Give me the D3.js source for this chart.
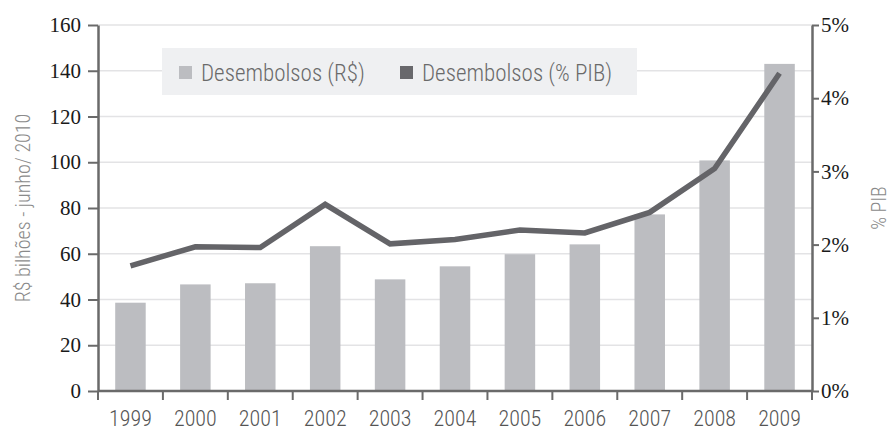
<!DOCTYPE html>
<html>
<head>
<meta charset="utf-8">
<script src="https://cdn.jsdelivr.net/npm/d3@7"></script>
<style>
  body { margin: 0; background: #fff; }
</style>
</head>
<body>
<svg width="890" height="430"></svg>
<script>
// data
const years = ["1999", "2000", "2001", "2002", "2003", "2004", "2005", "2006", "2007", "2008", "2009"];
const desembolsosRS = [38.6, 46.6, 47.1, 63.3, 48.8, 54.5, 59.8, 64.1, 77.2, 100.8, 143.0];
const desembolsosPIB = [1.71, 1.97, 1.96, 2.55, 2.01, 2.07, 2.20, 2.16, 2.44, 3.04, 4.34];
const leftTicks = [0, 20, 40, 60, 80, 100, 120, 140, 160];
const rightTicks = [0, 1, 2, 3, 4, 5];

const condFont = "'Roboto Condensed', 'Liberation Sans Narrow', 'DejaVu Sans Condensed', sans-serif";
const serifFont = "'Liberation Serif', 'DejaVu Serif', serif";

const svg = d3.select("svg");

var margin = { top: 25, right: 78, bottom: 39, left: 98 },
    width = 890 - margin.left - margin.right,
    height = 430 - margin.top - margin.bottom;

const g = svg.append("g")
    .attr("transform", "translate(" + margin.left + "," + margin.top + ")");

const x = d3.scaleBand()
    .domain(years)
    .range([0, width])
    .paddingInner(0.53)
    .paddingOuter(0.265);

const xOuter = d3.scaleBand().domain(years).range([0, width]);

const y = d3.scaleLinear().domain([0, 160]).range([height, 0]);
const y2 = d3.scaleLinear().domain([0, 5]).range([height, 0]);

// gridlines
g.selectAll(".grid")
    .data(leftTicks.slice(1))
    .enter()
    .append("line")
    .attr("x1", 0)
    .attr("x2", width)
    .attr("y1", d => y(d))
    .attr("y2", d => y(d))
    .attr("stroke", "#e3e3e5")
    .attr("stroke-width", 1.5);

// bars
g.selectAll(".bar")
    .data(desembolsosRS)
    .enter()
    .append("rect")
    .attr("x", (d, i) => x(years[i]))
    .attr("y", d => y(d))
    .attr("width", x.bandwidth())
    .attr("height", d => height - y(d))
    .attr("fill", "#bcbdc1");

// line
const line = d3.line()
    .x((d, i) => xOuter(years[i]) + xOuter.bandwidth() / 2)
    .y(d => y2(d));

g.append("path")
    .datum(desembolsosPIB)
    .attr("d", line)
    .attr("fill", "none")
    .attr("stroke", "#646468")
    .attr("stroke-width", 5.5)
    .attr("stroke-linejoin", "miter");

// left axis
const axisColor = "#6a6a6a";
const leftAxis = g.append("g")
    .call(d3.axisLeft(y).tickValues(leftTicks).tickSize(10).tickSizeOuter(0).tickPadding(7));
leftAxis.select(".domain").attr("stroke", axisColor).attr("stroke-width", 2.5);
leftAxis.selectAll(".tick line").attr("stroke", axisColor).attr("stroke-width", 2);
leftAxis.selectAll("text")
    .style("font-family", serifFont)
    .style("font-size", "21px")
    .attr("fill", "#1a1a1a");

// right axis
const rightAxis = g.append("g")
    .attr("transform", "translate(" + width + ",0)")
    .call(d3.axisRight(y2).tickValues(rightTicks).tickSize(7).tickSizeOuter(0).tickPadding(2)
        .tickFormat(d => d + "%"));
rightAxis.select(".domain").attr("stroke", axisColor).attr("stroke-width", 2.5);
rightAxis.selectAll(".tick line").attr("stroke", axisColor).attr("stroke-width", 2);
rightAxis.selectAll("text")
    .style("font-family", serifFont)
    .style("font-size", "21px")
    .attr("fill", "#1a1a1a");

// bottom axis: ticks at category boundaries
const bottom = g.append("g").attr("transform", "translate(0," + height + ")");
bottom.append("line")
    .attr("x1", 0).attr("x2", width)
    .attr("stroke", axisColor).attr("stroke-width", 2.5);
bottom.selectAll(".btick")
    .data(years.concat(["end"]))
    .enter()
    .append("line")
    .attr("x1", (d, i) => i * xOuter.step())
    .attr("x2", (d, i) => i * xOuter.step())
    .attr("y1", 0)
    .attr("y2", 9)
    .attr("stroke", axisColor)
    .attr("stroke-width", 2);
bottom.selectAll(".blabel")
    .data(years)
    .enter()
    .append("text")
    .attr("x", d => xOuter(d) + xOuter.bandwidth() / 2)
    .attr("y", 35)
    .attr("text-anchor", "middle")
    .style("font-family", condFont)
    .style("font-weight", 300)
    .style("font-size", "22px")
    .attr("fill", "#555")
    .text(d => d);

// axis titles
svg.append("text")
    .attr("transform", "translate(30," + (margin.top + height / 2) + ") rotate(-90)")
    .attr("text-anchor", "middle")
    .style("font-family", condFont)
    .style("font-weight", 300)
    .style("font-size", "20px")
    .attr("fill", "#8a8a8a")
    .text("R$ bilhões - junho/ 2010");

svg.append("text")
    .attr("transform", "translate(886," + (margin.top + height / 2) + ") rotate(-90)")
    .attr("text-anchor", "middle")
    .style("font-family", condFont)
    .style("font-weight", 300)
    .style("font-size", "20px")
    .attr("fill", "#8a8a8a")
    .text("% PIB");

// legend
const legend = svg.append("g").attr("transform", "translate(162,48)");
legend.append("rect")
    .attr("width", 475)
    .attr("height", 47)
    .attr("fill", "#eff0f2");

const legendItems = [
    { label: "Desembolsos (R$)", color: "#bcbdc1", x: 17 },
    { label: "Desembolsos (% PIB)", color: "#68686c", x: 238 }
];
legendItems.forEach(item => {
    legend.append("rect")
        .attr("x", item.x)
        .attr("y", 18)
        .attr("width", 13)
        .attr("height", 13)
        .attr("fill", item.color);
    legend.append("text")
        .attr("x", item.x + 22)
        .attr("y", 33)
        .style("font-family", condFont)
        .style("font-weight", 300)
        .style("font-size", "23px")
        .attr("fill", "#6a6a6a")
        .text(item.label);
});
</script>
</body>
</html>
